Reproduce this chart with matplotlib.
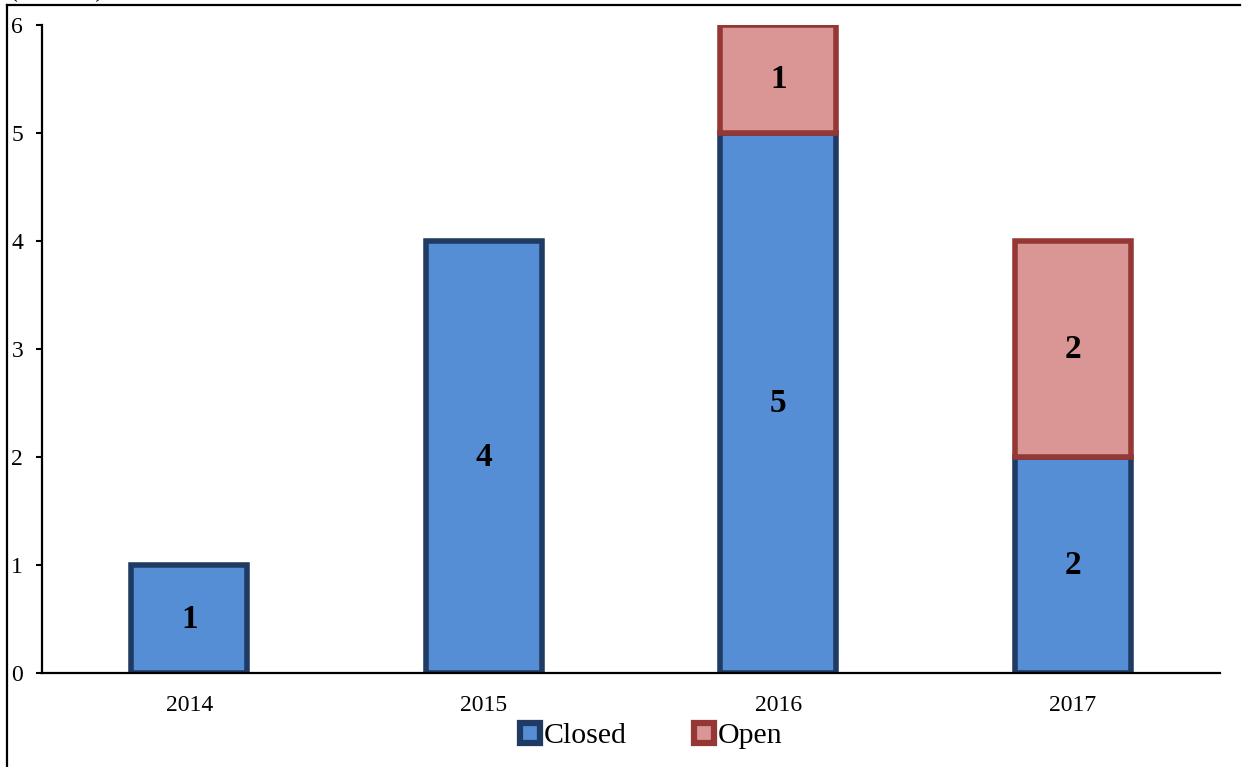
import matplotlib
matplotlib.use("Agg")
import matplotlib.pyplot as plt
from matplotlib.lines import Line2D
import numpy as np

years = ["2014", "2015", "2016", "2017"]
closed = [1, 4, 5, 2]
open_ = [0, 0, 1, 2]
yticks = [0, 1, 2, 3, 4, 5, 6]

plt.rcParams['font.family'] = ['Liberation Serif', 'DejaVu Serif']

W, H = 1244, 767
fig = plt.figure(figsize=(W / 100, H / 100), dpi=100)
ax = fig.add_axes([42 / W, 1 - 673 / H, (1220 - 42) / W, (673 - 25) / H])

x = np.arange(len(years)) + 0.5
bw = 0.395
c_fill, c_edge = "#558ED5", "#1F3B63"
o_fill, o_edge = "#D99694", "#953735"

ax.bar(x, closed, width=bw, color=c_fill, edgecolor=c_edge, linewidth=4, zorder=3)
ob = [(xi, v, b) for xi, v, b in zip(x, open_, closed) if v > 0]
ax.bar([o[0] for o in ob], [o[1] for o in ob], bottom=[o[2] for o in ob], width=bw,
       color=o_fill, edgecolor=o_edge, linewidth=4, zorder=3)

for xi, v in zip(x, closed):
    if v > 0:
        ax.text(xi, v / 2, str(v), ha="center", va="center", fontsize=24, fontweight="bold", zorder=5)
for xi, v, b in zip(x, open_, closed):
    if v > 0:
        ax.text(xi, b + v / 2, str(v), ha="center", va="center", fontsize=24, fontweight="bold", zorder=5)

ax.set_xlim(0, 4)
ax.set_ylim(0, 6)
ax.set_yticks(yticks)
ax.set_yticklabels([str(t) for t in yticks], fontsize=17)
ax.set_xticks(x)
ax.set_xticklabels(years, fontsize=17)
ax.tick_params(axis="x", length=0, pad=16)
ax.tick_params(axis="y", direction="out", length=4.5, width=1.5, pad=9)
ax.spines["top"].set_visible(False)
ax.spines["right"].set_visible(False)
ax.spines["left"].set_linewidth(1.6)
ax.spines["bottom"].set_linewidth(1.6)
ax.spines["bottom"].set_zorder(4)

handles = [
    Line2D([], [], marker="s", linestyle="none", markersize=14, markerfacecolor=c_fill,
           markeredgecolor=c_edge, markeredgewidth=4.5),
    Line2D([], [], marker="s", linestyle="none", markersize=14, markerfacecolor=o_fill,
           markeredgecolor=o_edge, markeredgewidth=4.5),
]
fig.legend(handles, ["Closed", "Open"], loc="center", bbox_to_anchor=(650 / W, 1 - 736 / H),
           ncol=2, frameon=False, fontsize=21.5, handlelength=0.8, handletextpad=0.05,
           columnspacing=2.2)

# outer frame (partially cropped)
fig.add_artist(Line2D([7 / W, 1240 / W], [1 - 5 / H, 1 - 5 / H], color="black", linewidth=1.6))
fig.add_artist(Line2D([7 / W, 7 / W], [1 - 5 / H, 0], color="black", linewidth=1.6))
fig.text(10 / W, 1 - 2 / H, "(Number)", fontsize=17, ha="left", va="bottom")

fig.savefig("out.png", dpi=100)
